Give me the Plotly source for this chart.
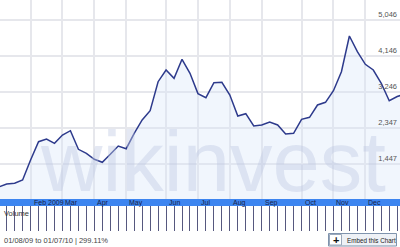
import plotly.graph_objects as go

# weekly index (0 = week of 01/08/09)
week_idx = list(range(52))
price = [872, 947, 965, 1047, 1547, 2004, 2072, 1964, 2172, 2279,
         1814, 1714, 1564, 1490, 1689, 1897, 1829, 2214, 2547, 2779,
         3504, 3796, 3589, 4064, 3714, 3206, 3104, 3479, 3489, 3171,
         2647, 2704, 2397, 2422, 2497, 2422, 2197, 2214, 2564, 2614,
         2922, 2989, 3279, 3754, 4646, 4254, 3939, 3796, 3464, 3029,
         3134, 3196]

month_idx = [4, 8, 12, 16, 21, 25, 29, 33, 38, 42, 46]
month_labels = ["Feb 2009", "Mar", "Apr", "May", "Jun", "Jul", "Aug", "Sep", "Oct", "Nov", "Dec"]

y_ticks = [1447, 2347, 3246, 4146, 5046]
y_tick_labels = ["1,447", "2,347", "3,246", "4,146", "5,046"]

x_range = [0.163, 50.35]
y_range = [572, 5546]

W, H = 400, 247
def py(pix):
    return (H - pix) / H

FONT = "Liberation Sans, Arial, sans-serif"

fig = go.Figure()
fig.add_trace(go.Scatter(
    x=week_idx, y=price, mode="lines",
    line=dict(color="#2d3a8c", width=1.5),
    fill="tozeroy", fillcolor="rgba(214,228,250,0.35)",
    hoverinfo="skip", xaxis="x", yaxis="y"))
fig.add_trace(go.Scatter(x=[], y=[], xaxis="x2", yaxis="y2", hoverinfo="skip"))

fig.update_layout(
    width=W, height=H, margin=dict(l=0, r=0, t=0, b=0),
    paper_bgcolor="white", plot_bgcolor="white", showlegend=False,
    xaxis=dict(domain=[0, 1], range=x_range, anchor="y",
               tickvals=month_idx, showticklabels=False, ticks="",
               showgrid=True, gridcolor="#e6e7ec", gridwidth=1.5, zeroline=False,
               showline=False),
    yaxis=dict(domain=[py(199), 1], range=y_range, side="right",
               tickvals=y_ticks, ticktext=y_tick_labels,
               ticklabelposition="inside top", ticks="",
               tickfont=dict(family=FONT, size=7.5, color="#555"),
               showgrid=True, gridcolor="#e6e7ec", gridwidth=1.5, zeroline=False,
               showline=False),
    xaxis2=dict(domain=[0, 1], range=x_range, anchor="y2",
                tick0=0, dtick=1, showticklabels=False, ticks="",
                showgrid=True, gridcolor="#56587f", gridwidth=1, zeroline=False,
                showline=False),
    yaxis2=dict(domain=[py(231), py(206)], range=[0, 1], showgrid=False,
                showticklabels=False, ticks="", zeroline=False, showline=False),
)

shapes = [
    dict(type="rect", xref="paper", yref="paper", x0=0, x1=1,
         y0=py(206), y1=py(199), fillcolor="#3d85f0", line=dict(width=0)),
    # embed button
    dict(type="rect", xref="paper", yref="paper", x0=328.5 / W, x1=396.5 / W,
         y0=py(246), y1=py(233.5), fillcolor="#eef1f6",
         line=dict(color="#7f93ad", width=1)),
    dict(type="rect", xref="paper", yref="paper", x0=329.5 / W, x1=341.5 / W,
         y0=py(245), y1=py(234.5), fillcolor="white",
         line=dict(color="#9aa8bb", width=1)),
]
fig.update_layout(shapes=shapes)

ann = []
ann.append(dict(text="wikinvest", xref="paper", yref="paper", x=213 / W, y=py(197),
                xanchor="center", yanchor="bottom", showarrow=False, yshift=-14,
                font=dict(family=FONT, size=85, color="rgba(190,200,226,0.42)")))
for m, lab in zip(month_idx, month_labels):
    ann.append(dict(text=lab, xref="x", yref="paper", x=m, y=py(202.5),
                    xanchor="left", yanchor="middle", xshift=1, showarrow=False,
                    font=dict(family=FONT, size=7, color="#1a1f45")))
ann.append(dict(text="Volume", xref="paper", yref="paper", x=2 / W, y=py(213),
                xanchor="left", yanchor="middle", showarrow=False,
                font=dict(family=FONT, size=7.5, color="#333")))
ann.append(dict(text="01/08/09 to 01/07/10 | 299.11%", xref="paper", yref="paper",
                x=2 / W, y=py(240), xanchor="left", yanchor="middle", showarrow=False,
                font=dict(family=FONT, size=7.5, color="#444")))
ann.append(dict(text="<b>+</b>", xref="paper", yref="paper", x=335.5 / W, y=py(239.8),
                xanchor="center", yanchor="middle", showarrow=False,
                font=dict(family=FONT, size=11, color="#111")))
ann.append(dict(text="Embed this Chart", xref="paper", yref="paper", x=345 / W, y=py(240),
                xanchor="left", yanchor="middle", showarrow=False,
                font=dict(family=FONT, size=6.3, color="#222")))
fig.update_layout(annotations=ann)

fig.write_html("out.html")
